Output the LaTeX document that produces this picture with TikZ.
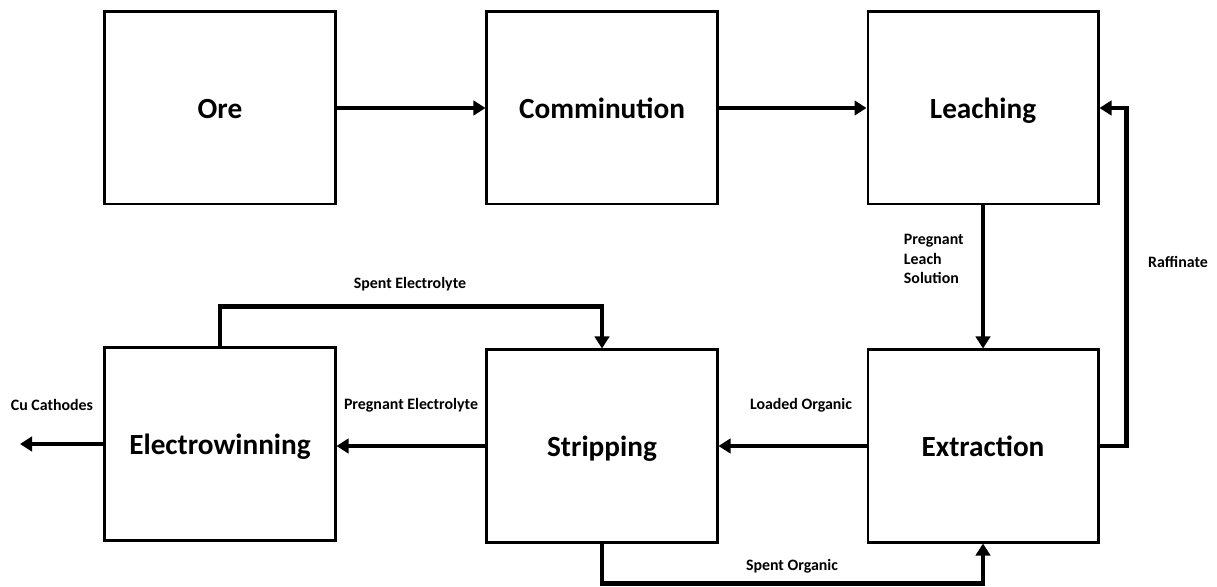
\documentclass[tikz,border=0pt]{standalone}
\usepackage{fontspec}
\setmainfont{Carlito}
\usepackage{tikz}
\usetikzlibrary{arrows.meta}

\begin{document}
\begin{tikzpicture}[x=0.025cm, y=0.025cm,
    box/.style={draw, line width=2.1pt, minimum width=5.75cm, minimum height=4.8cm,
        text height=20pt, text depth=4.5pt,
        font=\bfseries\fontsize{20.8}{24}\selectfont},
    flow/.style={line width=3.3pt, -{Triangle[length=0.3cm, width=0.36cm]}},
    lbl/.style={font=\bfseries\fontsize{11.3}{13.7}\selectfont}]
    \useasboundingbox (0,0) rectangle (1217,586);

    % Process boxes
    \foreach \name/\x/\y/\txt in {ore/220/478/Ore, comminution/602/478/Comminution,
        leaching/983/478/Leaching, extraction/983/140/Extraction,
        stripping/602/140/Stripping, electrowinning/220/142/Electrowinning}{
        \node[box] (\name) at (\x,\y) {\txt};
    }

    % Top row
    \draw[flow] (ore) -- (comminution);
    \draw[flow] (comminution) -- (leaching);

    % Leaching <-> Extraction
    \draw[flow] (leaching) -- (extraction);
    \node[lbl, align=left, anchor=west] (pls) at (899,327) {Pregnant\\Leach\\Solution};
    \draw[flow] (extraction.east) -- ++(27,0) |- (leaching.east);
    \node[lbl] (raff) at (1178,324) {Raffinate};

    % Bottom row
    \draw[flow] (extraction.west) -- (stripping.east);
    \node[lbl] (lo) at (801,181) {Loaded Organic};
    \draw[flow] (stripping.west) -- (stripping.west -| electrowinning.east);
    \node[lbl] (pe) at (411,181) {Pregnant Electrolyte};
    \coordinate (cu) at (20,142);
    \draw[flow] (electrowinning.west) -- (cu);
    \node[lbl] (cul) at (52,181) {Cu Cathodes};

    % Recycle loops
    \draw[flow] (electrowinning.north) -- ++(0,40) -| (stripping.north);
    \node[lbl] (se) at (410,302) {Spent Electrolyte};
    \draw[flow] (stripping.south) -- ++(0,-40) -| (extraction.south);
    \node[lbl] (so) at (792,20) {Spent Organic};

\end{tikzpicture}
\end{document}
